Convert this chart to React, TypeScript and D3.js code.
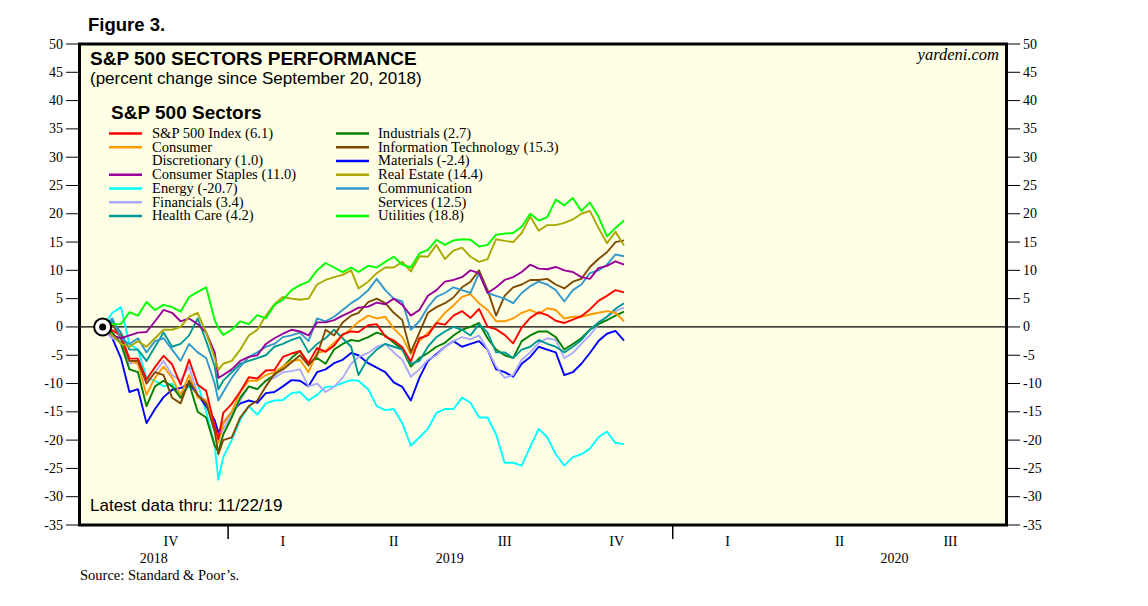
import React from "react";
import * as d3 from "d3";

// ---------- DATA ----------
const dates = [
  "2018-09-20","2018-09-28","2018-10-05","2018-10-12","2018-10-19","2018-10-26","2018-11-02","2018-11-09","2018-11-16","2018-11-23",
  "2018-11-30","2018-12-07","2018-12-14","2018-12-21","2018-12-24","2018-12-28","2019-01-04","2019-01-11","2019-01-18","2019-01-25",
  "2019-02-01","2019-02-08","2019-02-15","2019-02-22","2019-03-01","2019-03-08","2019-03-15","2019-03-22","2019-03-29","2019-04-05",
  "2019-04-12","2019-04-18","2019-04-26","2019-05-03","2019-05-10","2019-05-17","2019-05-24","2019-05-31","2019-06-07","2019-06-14",
  "2019-06-21","2019-06-28","2019-07-05","2019-07-12","2019-07-19","2019-07-26","2019-08-02","2019-08-09","2019-08-16","2019-08-23",
  "2019-08-30","2019-09-06","2019-09-13","2019-09-20","2019-09-27","2019-10-04","2019-10-11","2019-10-18","2019-10-25","2019-11-01",
  "2019-11-08","2019-11-15","2019-11-22"
];

const spx = [0,-0.6,-1.5,-5.6,-5.6,-9.3,-7.1,-5.1,-6.6,-10.2,-5.8,-10.2,-11.3,-17.5,-19.8,-15.2,-13.6,-11.4,-8.9,-9.1,-7.7,-7.6,-5.3,-4.7,-4.3,-6.4,-3.7,-4.4,-3.3,-1.3,-0.8,-0.9,0.3,0.5,-1.7,-2.4,-3.6,-6.1,-2.0,-1.5,0.7,0.4,2.0,2.8,1.6,3.2,0.0,-0.4,-1.4,-2.9,-0.1,1.6,2.6,2.1,1.1,0.7,1.3,1.9,3.1,4.6,5.5,6.5,6.1];
const consDisc = [0,0.5,-2,-6,-6.5,-12,-9,-7,-9,-12,-8.5,-12.5,-13,-17.5,-20.5,-17,-15,-11.5,-9.5,-9.5,-8.5,-8,-7,-6,-5.8,-8,-4.6,-4.2,-2.8,-1.5,-0.3,0.9,2,1.5,1.8,-0.3,-1.8,-4.8,-2.5,-1,0.7,2.5,3.8,5.3,5.8,4.2,3,1,1,1.5,2.5,3,2.3,3.3,3,1.5,1.8,1.8,2.2,2.5,2.8,2.5,1.0];
const staples = [0,-1.5,-2,-1.5,-1,-0.9,1,3,2.5,1,1.5,0.5,-1,-4.5,-9,-8.5,-7.5,-6,-5.3,-5,-3,-2,-1.2,-0.5,-0.8,-1.5,0.8,0.8,1.2,2,2.7,3.4,3.6,4.3,4,5,3.9,2,3,5.5,6.5,8,8.3,8.8,10,9.5,6,7,8.3,8.8,9.7,11,10.3,10.2,10.6,10,9.7,8.8,8.5,10.4,10.8,11.6,11];
const energy = [0,2.5,3.5,-3,-4,-9,-9.5,-10.5,-10,-12,-10.5,-10,-15,-21,-27,-23,-20,-16.4,-14,-15.5,-13.5,-13,-12.9,-11.7,-11.5,-13,-12,-10.6,-10.5,-9.9,-9.4,-9.5,-11,-14,-14.7,-14.5,-17,-21,-19.5,-18,-15.2,-14.5,-14.5,-12.5,-13.4,-16,-16,-19,-24,-24,-24.5,-21.2,-18,-19.5,-22.5,-24.5,-23,-22.5,-21.5,-19.5,-18.5,-20.5,-20.7];
const financials = [0,-2,-2.5,-6.5,-6,-10,-8,-6,-8.5,-9.5,-7,-12,-13,-18,-20,-18,-15.5,-13,-10.5,-11,-9.5,-9,-8,-7.8,-7.5,-10.5,-10,-11.5,-10.6,-9,-6.5,-5.3,-4.6,-3.5,-3,-4.5,-5.8,-8.8,-7.5,-5.8,-5,-3.5,-2.5,-1.8,-2.2,-1.5,-4,-7,-9,-8.5,-5.8,-4.5,-2.8,-2,-2.3,-5.5,-4.6,-3,-1.5,0.5,1.8,2.8,3.4];
const healthCare = [0,1,-1,-4,-4,-6,-3.5,-1,-3.5,-3,-1.5,1.5,-2.5,-7,-11,-9.5,-8,-6.5,-6,-5.5,-5,-3.5,-3,-2.3,-1.8,-4.5,-3,-2,-0.5,-2,-3.5,-8.5,-5.5,-4,-3,-3.5,-4,-6.5,-6,-3.5,-1.8,-0.8,0,-0.5,-1.5,0.5,-1,-4.5,-4.5,-5.5,-4,-3.5,-2.3,-3,-3.5,-4.5,-3.5,-2.3,-0.5,0.8,1.8,3.2,4.2];
const industrials = [0,-1,-3,-7.5,-8,-14,-10.5,-9.5,-10.5,-12.5,-10,-15,-16,-21,-22,-19,-16,-12.5,-10.5,-11,-9.5,-8.5,-7,-5.5,-4.2,-6.5,-5.5,-6.5,-4,-3,-2.3,-2.5,-1.8,-1,-1.5,-2.8,-4,-7,-5.5,-4.6,-3.5,-2.8,-1.5,-0.5,0,0.7,-2,-4,-5,-5.5,-2.5,-1.5,-0.8,-0.8,-1.8,-4,-3,-2,-0.5,0.5,1.2,2,2.7];
const infoTech = [0,0.5,-2,-6,-6,-10,-8,-8.5,-12.5,-13.5,-9.5,-12,-13.5,-18.5,-22.5,-20,-19.5,-16,-14,-13,-10.5,-8.3,-7.5,-6.3,-5,-6.8,-5,-0.5,-1.5,0.8,2,2.5,4.4,5,4.2,2.5,1.2,-4.5,-1,2.5,3.5,4.2,5.2,7,8,10,6.5,2,5.5,7,7.5,8.3,8.3,8.5,7.5,6.8,8,8.5,10.6,12,13.2,15,15.3];
const materials = [0,-2,-5.5,-11.5,-11,-17,-14.5,-12.4,-11.1,-10.8,-10,-12,-14,-16.5,-18.7,-17,-15,-13.5,-13,-13.4,-11.7,-11.5,-10.5,-9.4,-9.5,-10.5,-8,-7.5,-6.4,-5.8,-4.6,-5,-6.4,-7.2,-8,-9.8,-10.6,-13,-9,-6,-4.8,-3.5,-2.5,-3.5,-3,-2.5,-4,-7.5,-8,-8.8,-6.5,-5.3,-3.5,-4,-4.5,-8.5,-8,-6.5,-4.6,-2.5,-1.2,-0.7,-2.4];
const realEstate = [0,-1.5,-3,-3.5,-2.5,-3.5,-2,-0.5,-0.5,0,1.8,2.5,-1,-5.5,-7.6,-6.5,-6,-4,-1.5,-0.5,2,4,5.3,5,4.8,5,7.5,8.3,8.8,9.2,10,6.8,8,9.5,10.5,10.5,11.5,9.8,12.5,12.4,14.5,12,13.5,14,12.4,11.5,12,15.5,15.2,15,16.6,19.5,17,18,18,18.4,19,20,20.5,17.5,14.8,16.8,14.4];
const commServices = [0,1.5,-2,-3,-2,-4.5,-2.5,-2,-4,-6,-3,-4.5,-5.5,-10,-13,-11.5,-9,-7,-5.3,-4.5,-3.5,-3,-1.8,-1.5,-1,-2.5,1.5,1,1.8,3,4.2,5,6.5,8.5,6.5,5,4.5,-0.5,1,3.5,5.3,6,7,6.5,6,9.5,6,5.5,5,4.2,6,7.2,8,7.5,6.5,4.5,6.5,7.5,9.5,10,11,12.8,12.5];
const utilities = [0,0.5,0.5,2.6,2,4.4,3,3.9,3.5,2.7,5.3,6.2,7,1.2,-0.2,-1.4,-0.5,1,0.5,2.1,1.5,3.9,4.8,6.5,7.4,8,10,11.3,10.5,9.7,10.5,9.7,10.8,10.5,11.5,12.4,11,10.5,13,13.6,15.4,14.5,15.3,15.5,15.4,14.2,14.5,16.3,16.5,16.6,17.7,20,18.8,19.4,22.5,21.5,22.8,20.5,22,19.5,16,17.5,18.8];

const leftLegend = [
  { lines: ["S&P 500 Index (6.1)"], color: "#FF0000" },
  { lines: ["Consumer", "Discretionary (1.0)"], color: "#FF9900" },
  { lines: ["Consumer Staples (11.0)"], color: "#990099" },
  { lines: ["Energy (-20.7)"], color: "#00FFFF" },
  { lines: ["Financials (3.4)"], color: "#AAAAFF" },
  { lines: ["Health Care (4.2)"], color: "#009999" },
];
const rightLegend = [
  { lines: ["Industrials (2.7)"], color: "#008000" },
  { lines: ["Information Technology (15.3)"], color: "#7F4A00" },
  { lines: ["Materials (-2.4)"], color: "#0000FF" },
  { lines: ["Real Estate (14.4)"], color: "#A8A800" },
  { lines: ["Communication", "Services (12.5)"], color: "#3399CC" },
  { lines: ["Utilities (18.8)"], color: "#00FF00" },
];

// draw order
const seriesList = [
  { values: energy, color: "#00FFFF" },
  { values: materials, color: "#0000FF" },
  { values: financials, color: "#AAAAFF" },
  { values: industrials, color: "#008000" },
  { values: healthCare, color: "#009999" },
  { values: consDisc, color: "#FF9900" },
  { values: infoTech, color: "#7F4A00" },
  { values: spx, color: "#FF0000" },
  { values: commServices, color: "#3399CC" },
  { values: staples, color: "#990099" },
  { values: realEstate, color: "#A8A800" },
  { values: utilities, color: "#00FF00" },
];

const yTicks = [-35, -30, -25, -20, -15, -10, -5, 0, 5, 10, 15, 20, 25, 30, 35, 40, 45, 50];
const quarterLabels = ["IV", "I", "II", "III", "IV", "I", "II", "III"];
const quarterMids = ["2018-11-15", "2019-02-15", "2019-05-17", "2019-08-16", "2019-11-16", "2020-02-15", "2020-05-17", "2020-08-16"];
const yearLabels = ["2018", "2019", "2020"];
const yearMids = ["2018-11-01", "2019-07-02", "2020-07-01"];
const yearBoundaries = ["2019-01-01", "2020-01-01"];

const SANS = "'Liberation Sans', Arial, sans-serif";
const SERIF = "'Liberation Serif', 'Times New Roman', serif";

export default function App() {
  const parse = d3.timeParse("%Y-%m-%d");
  const left = 79.5, right = 1006.5, top = 44, bottom = 525;
  const x = d3.scaleTime().domain([parse("2018-09-01")!, parse("2020-10-01")!]).range([left, right]);
  const y = d3.scaleLinear().domain([-35, 50]).range([bottom, top]);
  const ds = dates.map((d) => parse(d)!);
  const line = d3.line<number>().x((_, i) => x(ds[i])).y((d) => y(d));

  const rowY = (r: number) => 133.5 + r * 13.75;

  const renderLegend = (items: typeof leftLegend, lx: number, tx: number) => {
    let row = 0;
    return items.map((it, k) => {
      const r = row;
      row += it.lines.length;
      return (
        <g key={k}>
          <line x1={lx} x2={lx + 33} y1={rowY(r)} y2={rowY(r)} stroke={it.color} strokeWidth={2.5} />
          {it.lines.map((t, j) => (
            <text key={j} x={tx} y={rowY(r + j) + 4.3} fontFamily={SERIF} fontSize={14.6} fill="#000">{t}</text>
          ))}
        </g>
      );
    });
  };

  return (
    <svg width={1148} height={606} style={{ position: "absolute", left: 0, top: 0, background: "#fff" }}>
      <text x={88} y={31} fontFamily={SANS} fontWeight="bold" fontSize={18.5}>Figure 3.</text>
      <rect x={left} y={top} width={right - left} height={bottom - top} fill="#FFFFE6" stroke="none" />

      {/* y ticks left and right */}
      {yTicks.map((t) => (
        <g key={t}>
          <line x1={66} x2={left} y1={y(t)} y2={y(t)} stroke="#000" strokeWidth={1} />
          <text x={63} y={y(t) + 4.5} textAnchor="end" fontFamily={SERIF} fontSize={14}>{t}</text>
          <line x1={right} x2={1020} y1={y(t)} y2={y(t)} stroke="#000" strokeWidth={1} />
          <text x={1023} y={y(t) + 4.5} textAnchor="start" fontFamily={SERIF} fontSize={14}>{t}</text>
        </g>
      ))}

      {/* zero line */}
      <line x1={left} x2={right} y1={y(0)} y2={y(0)} stroke="#000" strokeWidth={1.2} />

      {/* series */}
      {seriesList.map((s, i) => (
        <path key={i} d={line(s.values) || ""} fill="none" stroke={s.color} strokeWidth={1.9} strokeLinejoin="round" />
      ))}

      {/* start marker */}
      <circle cx={x(ds[0])} cy={y(0)} r={8.5} fill="#fff" stroke="#000" strokeWidth={2} />
      <circle cx={x(ds[0])} cy={y(0)} r={3.5} fill="#000" />

      {/* frame */}
      <rect x={left} y={top} width={right - left} height={bottom - top} fill="none" stroke="#000" strokeWidth={3} />

      {/* titles */}
      <text x={90} y={65} fontFamily={SANS} fontWeight="bold" fontSize={19}>S&amp;P 500 SECTORS PERFORMANCE</text>
      <text x={90} y={84} fontFamily={SANS} fontSize={17}>(percent change since September 20, 2018)</text>
      <text x={999} y={60} textAnchor="end" fontFamily={SERIF} fontStyle="italic" fontSize={16.5}>yardeni.com</text>
      <text x={111} y={119} fontFamily={SANS} fontWeight="bold" fontSize={19}>S&amp;P 500 Sectors</text>
      {renderLegend(leftLegend, 109, 152)}
      {renderLegend(rightLegend, 336, 378)}

      <text x={90} y={511} fontFamily={SANS} fontSize={17}>Latest data thru: 11/22/19</text>

      {/* x axis */}
      {yearBoundaries.map((d) => (
        <line key={d} x1={x(parse(d)!)} x2={x(parse(d)!)} y1={bottom} y2={539} stroke="#000" strokeWidth={1.5} />
      ))}
      {quarterLabels.map((q, i) => (
        <text key={i} x={x(parse(quarterMids[i])!)} y={546} textAnchor="middle" fontFamily={SERIF} fontSize={14}>{q}</text>
      ))}
      {yearLabels.map((yl, i) => (
        <text key={yl} x={x(parse(yearMids[i])!)} y={563} textAnchor="middle" fontFamily={SERIF} fontSize={14}>{yl}</text>
      ))}
      <text x={80} y={580} fontFamily={SERIF} fontSize={14.5}>Source: Standard &amp; Poor’s.</text>
    </svg>
  );
}
